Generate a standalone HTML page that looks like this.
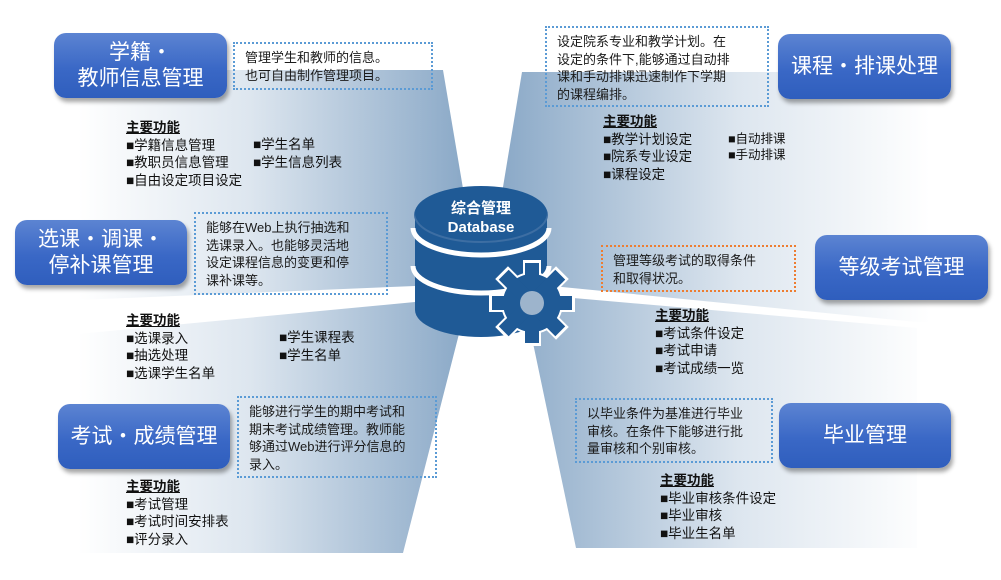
<!DOCTYPE html>
<html><head><meta charset="utf-8">
<style>
*{margin:0;padding:0;box-sizing:border-box}
body{width:1001px;height:580px;background:#fff;position:relative;overflow:hidden;font-family:"Liberation Sans","Noto Sans CJK SC",sans-serif;color:#111}
.btn{position:absolute;border-radius:12px;background:linear-gradient(#5c84d2,#3a68c6 55%,#2f5ebd);box-shadow:2px 4px 4px rgba(0,0,0,.35);color:#fff;font-size:21px;line-height:26px;text-align:center;display:flex;align-items:center;justify-content:center}
.dot{position:absolute;border:2px dotted #5b9bd5;font-size:13px;line-height:17.5px;padding:5px 0 0 10px;color:#1a1a1a}
.org{border-color:#ed7d31}
.f{position:absolute;font-size:13.5px;line-height:17.5px;white-space:nowrap}
.f b{text-decoration:underline;font-weight:bold}
</style></head><body>
<svg width="1001" height="580" style="position:absolute;left:0;top:0">
<defs>
<linearGradient id="gl" x1="78" y1="0" x2="460" y2="0" gradientUnits="userSpaceOnUse">
<stop offset="0" stop-color="#fff"/><stop offset=".45" stop-color="#dde6ef"/><stop offset="1" stop-color="#8caac8"/></linearGradient>
<linearGradient id="gr" x1="930" y1="0" x2="505" y2="0" gradientUnits="userSpaceOnUse">
<stop offset="0" stop-color="#fff"/><stop offset=".45" stop-color="#dde6ef"/><stop offset="1" stop-color="#8caac8"/></linearGradient>
</defs>
<polygon points="78,70 443,70 470,230 470,285 415,286 78,300" fill="url(#gl)"/>
<polygon points="78,334 415,302 470,295 460,330 403,553 78,553" fill="url(#gl)"/>
<polygon points="522,72 930,72 930,322 917,322 562,287 500,280 503,187" fill="url(#gr)"/>
<polygon points="562,297 917,328 917,548 576,548 533,343 500,300" fill="url(#gr)"/>
<!-- database -->
<g fill="#1f5a96">
<path d="M415,215 L415,310 A66,27 0 0 0 547,310 L547,215 Z"/>
<ellipse cx="481" cy="215" rx="66" ry="27"/>
</g>
<path d="M413,228 A68,27 0 0 0 549,228" fill="none" stroke="#fff" stroke-width="5"/>
<path d="M413,266 A68,27 0 0 0 549,266" fill="none" stroke="#fff" stroke-width="5"/>
<ellipse cx="481" cy="215" rx="66" ry="27" fill="none" stroke="#3d6ea3" stroke-width="2"/>
<ellipse cx="481" cy="213" rx="66" ry="27" fill="#1f5a96"/>
<g transform="translate(532,303)">
<circle r="31" fill="#fff"/>
<g fill="#fff">
<rect x="-9" y="-43" width="18" height="86"/>
<rect x="-9" y="-43" width="18" height="86" transform="rotate(45)"/>
<rect x="-9" y="-43" width="18" height="86" transform="rotate(90)"/>
<rect x="-9" y="-43" width="18" height="86" transform="rotate(135)"/>
</g>
<g fill="#1f5a96">
<circle r="29"/>
<rect x="-7" y="-40" width="14" height="80"/>
<rect x="-7" y="-40" width="14" height="80" transform="rotate(45)"/>
<rect x="-7" y="-40" width="14" height="80" transform="rotate(90)"/>
<rect x="-7" y="-40" width="14" height="80" transform="rotate(135)"/>
</g>
<circle r="12" fill="#9db4cc"/>
</g>
<text x="481" y="213" fill="#fff" font-size="15" font-weight="bold" text-anchor="middle" font-family="Liberation Sans,Noto Sans CJK SC,sans-serif">综合管理</text>
<text x="481" y="232" fill="#fff" font-size="15" font-weight="bold" text-anchor="middle" font-family="Liberation Sans,Noto Sans CJK SC,sans-serif">Database</text>
</svg>

<div class="btn" style="left:54px;top:33px;width:173px;height:65px">学籍・<br>教师信息管理</div>
<div class="btn" style="left:15px;top:220px;width:172px;height:65px">选课・调课・<br>停补课管理</div>
<div class="btn" style="left:58px;top:404px;width:172px;height:65px">考试・成绩管理</div>
<div class="btn" style="left:778px;top:34px;width:173px;height:65px">课程・排课处理</div>
<div class="btn" style="left:815px;top:235px;width:173px;height:65px">等级考试管理</div>
<div class="btn" style="left:779px;top:403px;width:172px;height:65px">毕业管理</div>

<div class="dot" style="left:233px;top:42px;width:200px;height:48px">管理学生和教师的信息。<br>也可自由制作管理项目。</div>
<div class="dot" style="left:194px;top:212px;width:194px;height:83px">能够在Web上执行抽选和<br>选课录入。也能够灵活地<br>设定课程信息的变更和停<br>课补课等。</div>
<div class="dot" style="left:237px;top:396px;width:200px;height:82px">能够进行学生的期中考试和<br>期末考试成绩管理。教师能<br>够通过Web进行评分信息的<br>录入。</div>
<div class="dot" style="left:545px;top:26px;width:224px;height:81px">设定院系专业和教学计划。在<br>设定的条件下,能够通过自动排<br>课和手动排课迅速制作下学期<br>的课程编排。</div>
<div class="dot org" style="left:601px;top:245px;width:195px;height:47px">管理等级考试的取得条件<br>和取得状况。</div>
<div class="dot" style="left:575px;top:398px;width:198px;height:65px">以毕业条件为基准进行毕业<br>审核。在条件下能够进行批<br>量审核和个别审核。</div>

<div class="f" style="left:126px;top:119px"><b>主要功能</b><br>■学籍信息管理<br>■教职员信息管理<br>■自由设定项目设定</div>
<div class="f" style="left:253px;top:136px">■学生名单<br>■学生信息列表</div>
<div class="f" style="left:126px;top:312px"><b>主要功能</b><br>■选课录入<br>■抽选处理<br>■选课学生名单</div>
<div class="f" style="left:279px;top:329px">■学生课程表<br>■学生名单</div>
<div class="f" style="left:126px;top:478px"><b>主要功能</b><br>■考试管理<br>■考试时间安排表<br>■评分录入</div>
<div class="f" style="left:603px;top:113px"><b>主要功能</b><br>■教学计划设定<br>■院系专业设定<br>■课程设定</div>
<div class="f" style="left:728px;top:131px;font-size:12.5px;line-height:16px">■自动排课<br>■手动排课</div>
<div class="f" style="left:655px;top:307px"><b>主要功能</b><br>■考试条件设定<br>■考试申请<br>■考试成绩一览</div>
<div class="f" style="left:660px;top:472px"><b>主要功能</b><br>■毕业审核条件设定<br>■毕业审核<br>■毕业生名单</div>
</body></html>
